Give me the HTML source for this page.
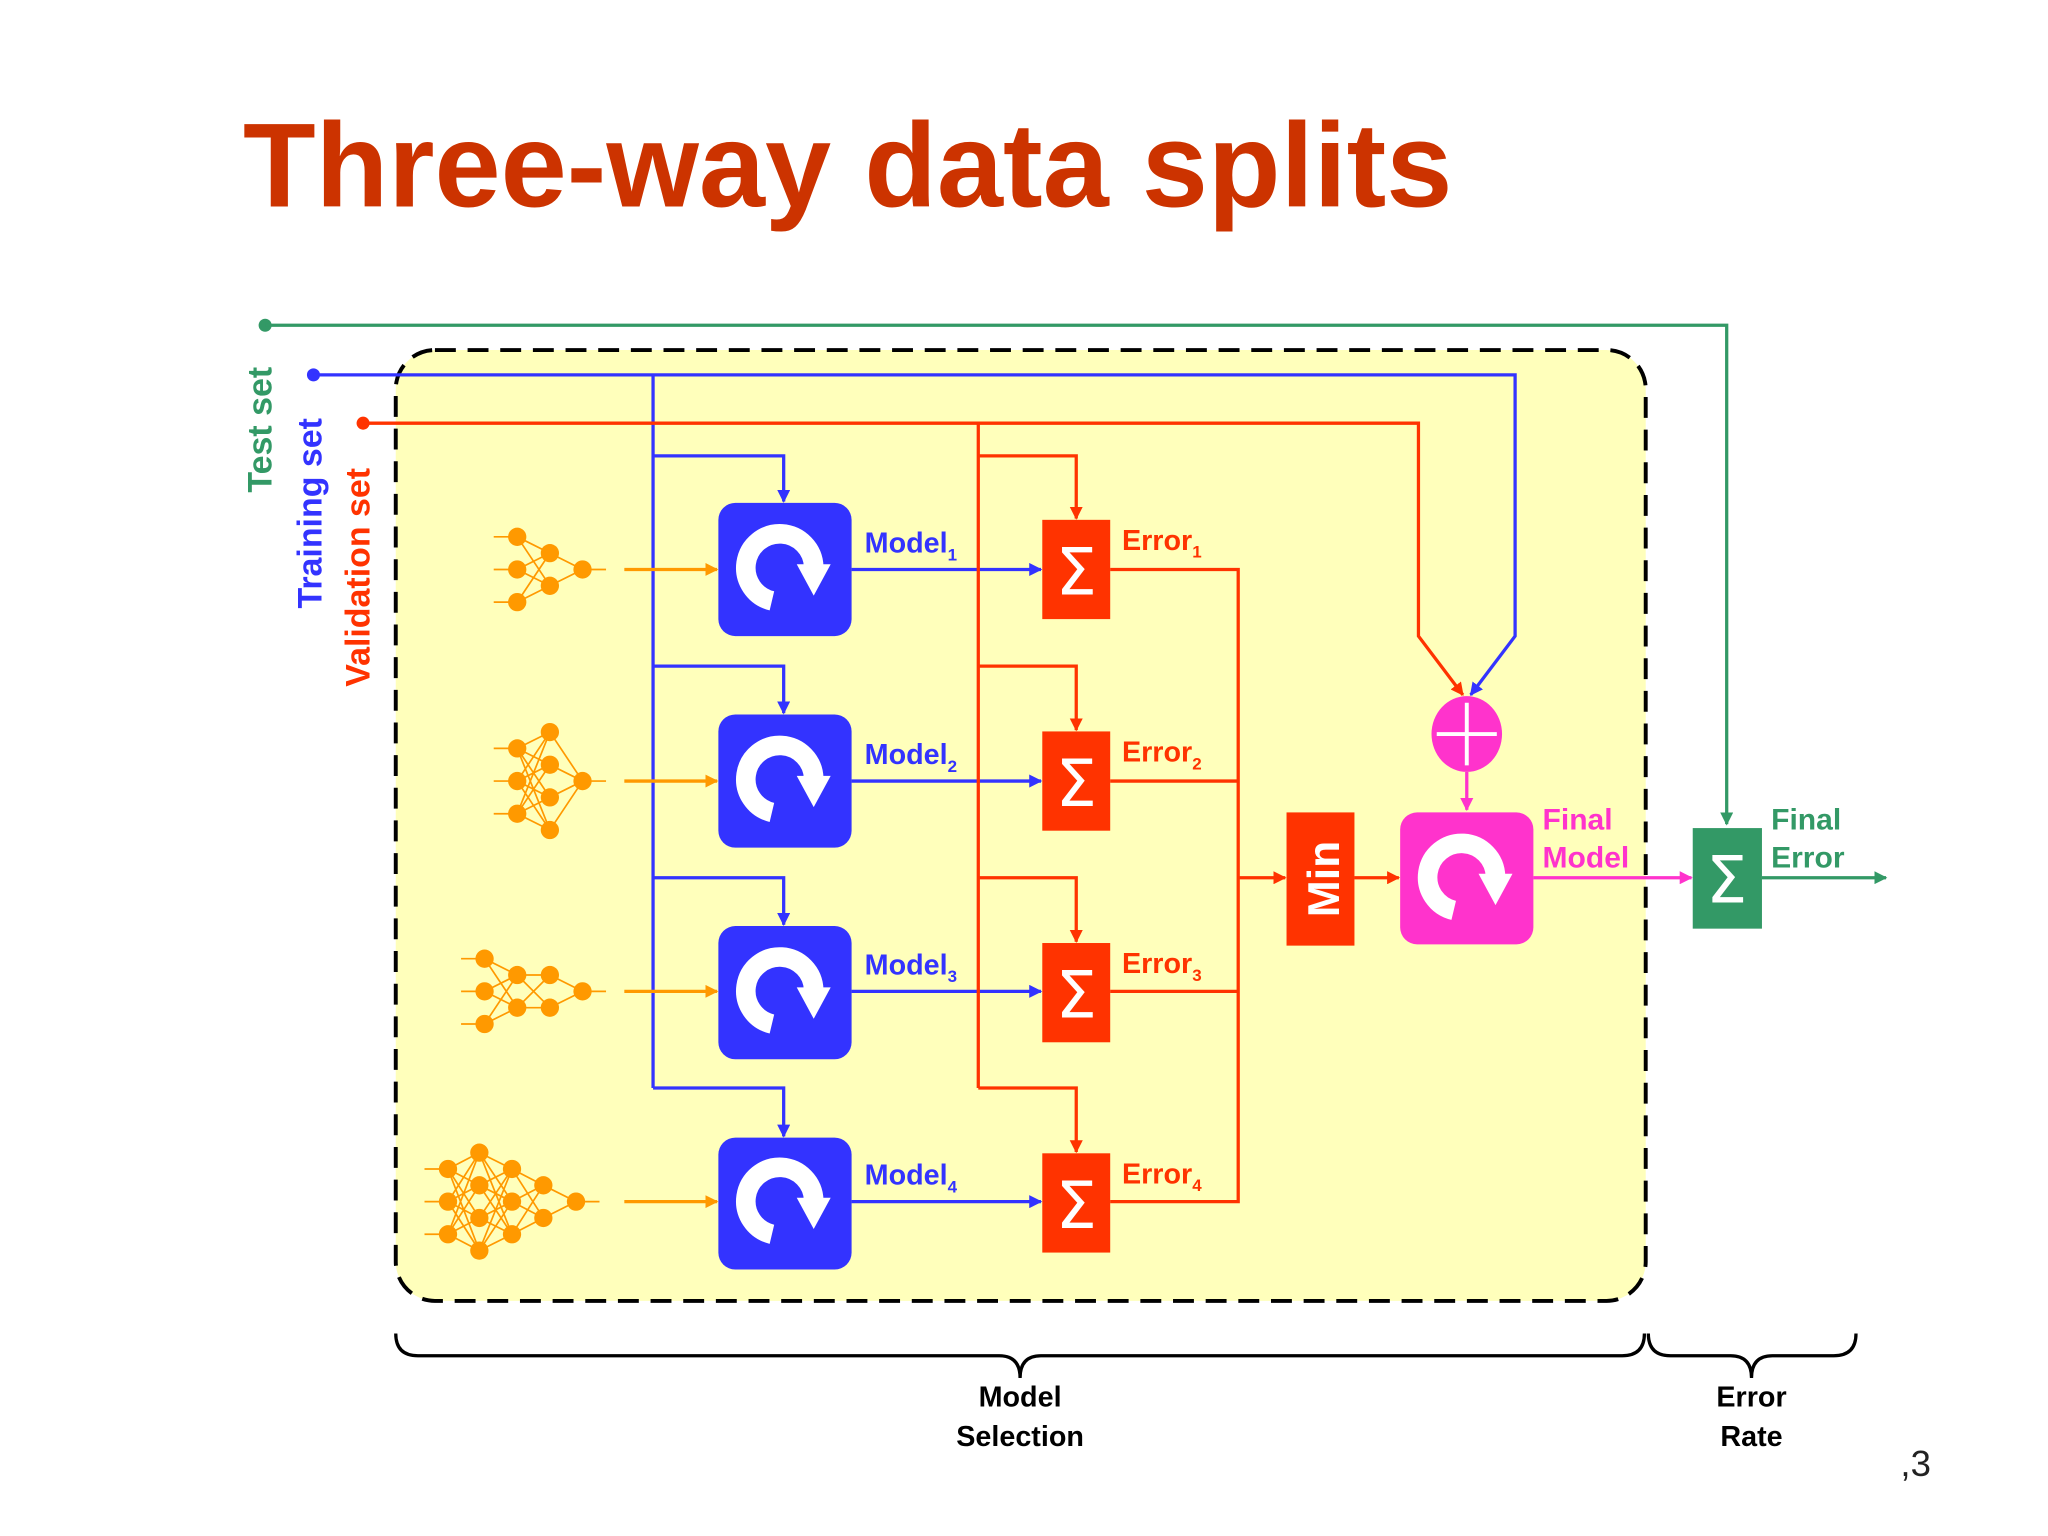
<!DOCTYPE html>
<html><head><meta charset="utf-8"><style>
html,body{margin:0;padding:0;background:#fff;}
svg{display:block;}
</style></head><body>
<svg width="2048" height="1536" viewBox="0 0 1568 1176" xmlns="http://www.w3.org/2000/svg" font-family="Liberation Sans, Arial, sans-serif">
<defs>
<marker id="ab" viewBox="0 0 10 10" refX="9" refY="5" markerWidth="4" markerHeight="4" orient="auto"><path d="M0,0L10,5L0,10z" fill="#3333ff"/></marker>
<marker id="ar" viewBox="0 0 10 10" refX="9" refY="5" markerWidth="4" markerHeight="4" orient="auto"><path d="M0,0L10,5L0,10z" fill="#ff3300"/></marker>
<marker id="ag" viewBox="0 0 10 10" refX="9" refY="5" markerWidth="4" markerHeight="4" orient="auto"><path d="M0,0L10,5L0,10z" fill="#339966"/></marker>
<marker id="ap" viewBox="0 0 10 10" refX="9" refY="5" markerWidth="4" markerHeight="4" orient="auto"><path d="M0,0L10,5L0,10z" fill="#ff33cc"/></marker>
<marker id="ao" viewBox="0 0 10 10" refX="9" refY="5" markerWidth="4" markerHeight="4" orient="auto"><path d="M0,0L10,5L0,10z" fill="#ff9900"/></marker>
<g id="cyc">
<path d="M-8,24 A26,26 0 1 1 24,-2" fill="none" stroke="#fff" stroke-width="15"/>
<path d="M11,-4 L37,-4 L24,20 z" fill="#fff"/>
</g>
</defs>

<text x="186" y="158" font-size="92" font-weight="bold" fill="#cc3300" textLength="926" lengthAdjust="spacingAndGlyphs">Three-way data splits</text>

<rect x="303" y="268" width="957" height="728" rx="30" fill="#ffffbb" stroke="#000" stroke-width="3" stroke-dasharray="16,9"/>

<circle cx="203" cy="249" r="5" fill="#339966"/>
<polyline points="203,249 1322,249 1322,631" fill="none" stroke="#339966" stroke-width="2.5" marker-end="url(#ag)"/>

<circle cx="240" cy="287" r="5" fill="#3333ff"/>
<polyline points="240,287 1160,287 1160,487 1126,532" fill="none" stroke="#3333ff" stroke-width="2.5" marker-end="url(#ab)"/>
<line x1="500" y1="287" x2="500" y2="833" stroke="#3333ff" stroke-width="2.5"/>
<g fill="none" stroke="#3333ff" stroke-width="2.5" marker-end="url(#ab)">
<polyline points="500,349 600,349 600,384"/>
<polyline points="500,510 600,510 600,546"/>
<polyline points="500,672 600,672 600,708"/>
<polyline points="500,833 600,833 600,870"/>
<line x1="652" y1="436" x2="797" y2="436"/>
<line x1="652" y1="598" x2="797" y2="598"/>
<line x1="652" y1="759" x2="797" y2="759"/>
<line x1="652" y1="920" x2="797" y2="920"/>
</g>

<circle cx="278" cy="324" r="5" fill="#ff3300"/>
<polyline points="278,324 1086,324 1086,487 1120,532" fill="none" stroke="#ff3300" stroke-width="2.5" marker-end="url(#ar)"/>
<line x1="749" y1="324" x2="749" y2="833" stroke="#ff3300" stroke-width="2.5"/>
<g fill="none" stroke="#ff3300" stroke-width="2.5" marker-end="url(#ar)">
<polyline points="749,349 824,349 824,397"/>
<polyline points="749,510 824,510 824,559"/>
<polyline points="749,672 824,672 824,721"/>
<polyline points="749,833 824,833 824,882"/>
<line x1="948" y1="672" x2="984" y2="672"/>
<line x1="1037" y1="672" x2="1071" y2="672"/>
</g>
<polyline points="850,436 948,436 948,920 850,920" fill="none" stroke="#ff3300" stroke-width="2.5"/>
<line x1="850" y1="598" x2="948" y2="598" stroke="#ff3300" stroke-width="2.5"/>
<line x1="850" y1="759" x2="948" y2="759" stroke="#ff3300" stroke-width="2.5"/>

<g stroke="#ff9900" stroke-width="2.5" marker-end="url(#ao)">
<line x1="478" y1="436" x2="549" y2="436"/>
<line x1="478" y1="598" x2="549" y2="598"/>
<line x1="478" y1="759" x2="549" y2="759"/>
<line x1="478" y1="920" x2="549" y2="920"/>
</g>

<!-- neural nets -->
<g stroke="#ff9900" stroke-width="1.3" fill="none">
<path d="M378,411H396M378,436H396M378,461H396M396,411L421,423.5M396,411L421,448.5M396,436L421,423.5M396,436L421,448.5M396,461L421,423.5M396,461L421,448.5M421,423.5L446,436M421,448.5L446,436M446,436H464"/>
<path d="M378,573H396M378,598H396M378,623H396
M396,573L421,560.5M396,573L421,585.5M396,573L421,610.5M396,573L421,635.5
M396,598L421,560.5M396,598L421,585.5M396,598L421,610.5M396,598L421,635.5
M396,623L421,560.5M396,623L421,585.5M396,623L421,610.5M396,623L421,635.5
M421,560.5L446,598M421,585.5L446,598M421,610.5L446,598M421,635.5L446,598M446,598H464"/>
<path d="M353,734H371M353,759H371M353,784H371
M371,734L396,746.5M371,734L396,771.5M371,759L396,746.5M371,759L396,771.5M371,784L396,746.5M371,784L396,771.5
M396,746.5L421,746.5M396,746.5L421,771.5M396,771.5L421,746.5M396,771.5L421,771.5
M421,746.5L446,759M421,771.5L446,759M446,759H464"/>
<path d="M325,895H343M325,920H343M325,945H343
M343,895L367,882.5M343,895L367,907.5M343,895L367,932.5M343,895L367,957.5
M343,920L367,882.5M343,920L367,907.5M343,920L367,932.5M343,920L367,957.5
M343,945L367,882.5M343,945L367,907.5M343,945L367,932.5M343,945L367,957.5
M367,882.5L392,895M367,882.5L392,920M367,882.5L392,945
M367,907.5L392,895M367,907.5L392,920M367,907.5L392,945
M367,932.5L392,895M367,932.5L392,920M367,932.5L392,945
M367,957.5L392,895M367,957.5L392,920M367,957.5L392,945
M392,895L416,907.5M392,895L416,932.5M392,920L416,907.5M392,920L416,932.5M392,945L416,907.5M392,945L416,932.5
M416,907.5L441,920M416,932.5L441,920M441,920H459"/>
</g>
<g fill="#ff9900">
<circle cx="396" cy="411" r="7"/><circle cx="396" cy="436" r="7"/><circle cx="396" cy="461" r="7"/>
<circle cx="421" cy="423.5" r="7"/><circle cx="421" cy="448.5" r="7"/><circle cx="446" cy="436" r="7"/>
<circle cx="396" cy="573" r="7"/><circle cx="396" cy="598" r="7"/><circle cx="396" cy="623" r="7"/>
<circle cx="421" cy="560.5" r="7"/><circle cx="421" cy="585.5" r="7"/><circle cx="421" cy="610.5" r="7"/><circle cx="421" cy="635.5" r="7"/>
<circle cx="446" cy="598" r="7"/>
<circle cx="371" cy="734" r="7"/><circle cx="371" cy="759" r="7"/><circle cx="371" cy="784" r="7"/>
<circle cx="396" cy="746.5" r="7"/><circle cx="396" cy="771.5" r="7"/>
<circle cx="421" cy="746.5" r="7"/><circle cx="421" cy="771.5" r="7"/><circle cx="446" cy="759" r="7"/>
<circle cx="343" cy="895" r="7"/><circle cx="343" cy="920" r="7"/><circle cx="343" cy="945" r="7"/>
<circle cx="367" cy="882.5" r="7"/><circle cx="367" cy="907.5" r="7"/><circle cx="367" cy="932.5" r="7"/><circle cx="367" cy="957.5" r="7"/>
<circle cx="392" cy="895" r="7"/><circle cx="392" cy="920" r="7"/><circle cx="392" cy="945" r="7"/>
<circle cx="416" cy="907.5" r="7"/><circle cx="416" cy="932.5" r="7"/><circle cx="441" cy="920" r="7"/>
</g>

<g fill="#3333ff">
<rect x="550" y="385" width="102" height="102" rx="13"/>
<rect x="550" y="547" width="102" height="102" rx="13"/>
<rect x="550" y="709" width="102" height="102" rx="13"/>
<rect x="550" y="871" width="102" height="101" rx="13"/>
</g>
<use href="#cyc" x="599" y="436"/>
<use href="#cyc" x="599" y="598"/>
<use href="#cyc" x="599" y="760"/>
<use href="#cyc" x="599" y="921"/>

<g font-size="22" font-weight="bold" fill="#3333ff">
<text x="662" y="423">Model<tspan font-size="13" dy="6">1</tspan></text>
<text x="662" y="585">Model<tspan font-size="13" dy="6">2</tspan></text>
<text x="662" y="746">Model<tspan font-size="13" dy="6">3</tspan></text>
<text x="662" y="907">Model<tspan font-size="13" dy="6">4</tspan></text>
</g>

<g fill="#ff3300">
<rect x="798" y="398" width="52" height="76"/>
<rect x="798" y="560" width="52" height="76"/>
<rect x="798" y="722" width="52" height="76"/>
<rect x="798" y="883" width="52" height="76"/>
</g>
<g font-size="50" fill="#fff" text-anchor="middle" font-family="DejaVu Sans, sans-serif">
<text x="824" y="455">Σ</text>
<text x="824" y="617">Σ</text>
<text x="824" y="779">Σ</text>
<text x="824" y="940">Σ</text>
</g>
<g font-size="22" font-weight="bold" fill="#ff3300">
<text x="859" y="421">Error<tspan font-size="13" dy="6">1</tspan></text>
<text x="859" y="583">Error<tspan font-size="13" dy="6">2</tspan></text>
<text x="859" y="745">Error<tspan font-size="13" dy="6">3</tspan></text>
<text x="859" y="906">Error<tspan font-size="13" dy="6">4</tspan></text>
</g>

<rect x="985" y="622" width="52" height="102" fill="#ff3300"/>
<text transform="translate(1025,673) rotate(-90)" text-anchor="middle" font-size="34" font-weight="bold" fill="#fff">Min</text>

<ellipse cx="1123" cy="562" rx="27" ry="29" fill="#ff33cc"/>
<line x1="1100" y1="562" x2="1146" y2="562" stroke="#fff" stroke-width="3"/>
<line x1="1123" y1="538" x2="1123" y2="586" stroke="#fff" stroke-width="3"/>
<line x1="1123" y1="591" x2="1123" y2="620" stroke="#ff33cc" stroke-width="2.5" marker-end="url(#ap)"/>

<rect x="1072" y="622" width="102" height="101" rx="13" fill="#ff33cc"/>
<use href="#cyc" x="1121" y="673"/>
<line x1="1174" y1="672" x2="1295" y2="672" stroke="#ff33cc" stroke-width="2.5" marker-end="url(#ap)"/>
<g font-size="23" font-weight="bold" fill="#ff33cc">
<text x="1181" y="635">Final</text>
<text x="1181" y="664">Model</text>
</g>

<rect x="1296" y="634" width="53" height="77" fill="#339966"/>
<text x="1322" y="691" font-size="50" fill="#fff" text-anchor="middle" font-family="DejaVu Sans, sans-serif">Σ</text>
<line x1="1349" y1="672" x2="1444" y2="672" stroke="#339966" stroke-width="2.5" marker-end="url(#ag)"/>
<g font-size="23" font-weight="bold" fill="#339966">
<text x="1356" y="635">Final</text>
<text x="1356" y="664">Error</text>
</g>

<g font-size="26" font-weight="bold" text-anchor="middle">
<text transform="translate(208,329) rotate(-90)" fill="#339966">Test set</text>
<text transform="translate(246,393) rotate(-90)" fill="#3333ff">Training set</text>
<text transform="translate(283,442) rotate(-90)" fill="#ff3300">Validation set</text>
</g>

<g fill="none" stroke="#000" stroke-width="2.5">
<path d="M303,1021 Q303,1038 320,1038 L765,1038 Q781,1038 781,1055 Q781,1038 797,1038 L1242,1038 Q1259,1038 1259,1021"/>
<path d="M1262,1021 Q1262,1038 1279,1038 L1325,1038 Q1341,1038 1341,1055 Q1341,1038 1357,1038 L1404,1038 Q1421,1038 1421,1021"/>
</g>
<g font-size="22" font-weight="bold" fill="#000" text-anchor="middle">
<text x="781" y="1077">Model</text>
<text x="781" y="1107">Selection</text>
<text x="1341" y="1077">Error</text>
<text x="1341" y="1107">Rate</text>
</g>
<text x="1455" y="1130" font-size="28" fill="#222">,3</text>
</svg>
</body></html>
